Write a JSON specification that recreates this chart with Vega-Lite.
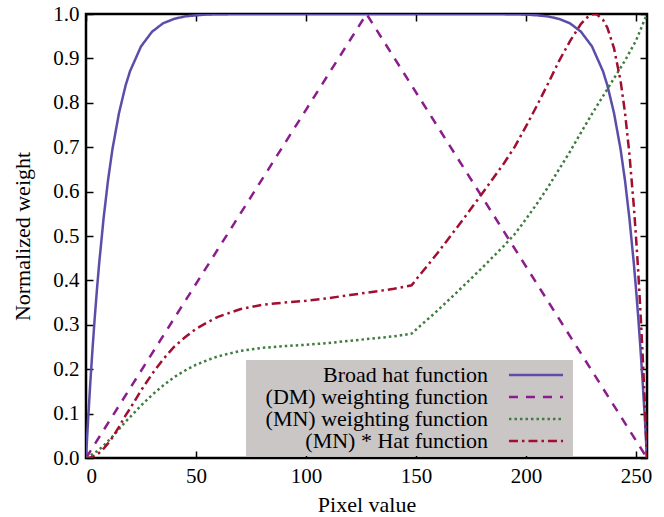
{
  "$schema": "https://vega.github.io/schema/vega-lite/v6.json",
  "width": 561,
  "height": 444,
  "autosize": "none",
  "padding": {"left": 86, "top": 14, "right": 17, "bottom": 59},
  "background": "white",
  "config": {
    "font": "Liberation Serif",
    "view": {"stroke": "black", "strokeWidth": 2.5}
  },
  "datasets": {
    "curves": [
      {"x": 0, "w": 0, "s": "Broad hat function"},
      {"x": 1, "w": 0.090, "s": "Broad hat function"},
      {"x": 2, "w": 0.173, "s": "Broad hat function"},
      {"x": 3, "w": 0.248, "s": "Broad hat function"},
      {"x": 4, "w": 0.318, "s": "Broad hat function"},
      {"x": 5, "w": 0.381, "s": "Broad hat function"},
      {"x": 6, "w": 0.439, "s": "Broad hat function"},
      {"x": 8, "w": 0.540, "s": "Broad hat function"},
      {"x": 10, "w": 0.625, "s": "Broad hat function"},
      {"x": 12, "w": 0.695, "s": "Broad hat function"},
      {"x": 15, "w": 0.777, "s": "Broad hat function"},
      {"x": 18, "w": 0.839, "s": "Broad hat function"},
      {"x": 20, "w": 0.871, "s": "Broad hat function"},
      {"x": 25, "w": 0.927, "s": "Broad hat function"},
      {"x": 30, "w": 0.960, "s": "Broad hat function"},
      {"x": 35, "w": 0.979, "s": "Broad hat function"},
      {"x": 40, "w": 0.989, "s": "Broad hat function"},
      {"x": 45, "w": 0.9946, "s": "Broad hat function"},
      {"x": 50, "w": 0.997, "s": "Broad hat function"},
      {"x": 55, "w": 0.9989, "s": "Broad hat function"},
      {"x": 60, "w": 0.9995, "s": "Broad hat function"},
      {"x": 70, "w": 1.0, "s": "Broad hat function"},
      {"x": 185, "w": 1.0, "s": "Broad hat function"},
      {"x": 195, "w": 0.9995, "s": "Broad hat function"},
      {"x": 200, "w": 0.9989, "s": "Broad hat function"},
      {"x": 205, "w": 0.997, "s": "Broad hat function"},
      {"x": 210, "w": 0.9946, "s": "Broad hat function"},
      {"x": 215, "w": 0.989, "s": "Broad hat function"},
      {"x": 220, "w": 0.979, "s": "Broad hat function"},
      {"x": 225, "w": 0.960, "s": "Broad hat function"},
      {"x": 230, "w": 0.927, "s": "Broad hat function"},
      {"x": 235, "w": 0.871, "s": "Broad hat function"},
      {"x": 237, "w": 0.839, "s": "Broad hat function"},
      {"x": 240, "w": 0.777, "s": "Broad hat function"},
      {"x": 243, "w": 0.695, "s": "Broad hat function"},
      {"x": 245, "w": 0.625, "s": "Broad hat function"},
      {"x": 247, "w": 0.540, "s": "Broad hat function"},
      {"x": 249, "w": 0.439, "s": "Broad hat function"},
      {"x": 250, "w": 0.381, "s": "Broad hat function"},
      {"x": 251, "w": 0.318, "s": "Broad hat function"},
      {"x": 252, "w": 0.248, "s": "Broad hat function"},
      {"x": 253, "w": 0.173, "s": "Broad hat function"},
      {"x": 254, "w": 0.090, "s": "Broad hat function"},
      {"x": 255, "w": 0, "s": "Broad hat function"},

      {"x": 0, "w": 0, "s": "(DM) weighting function"},
      {"x": 127.5, "w": 1, "s": "(DM) weighting function"},
      {"x": 255, "w": 0, "s": "(DM) weighting function"},

      {"x": 0, "w": 0, "s": "(MN) weighting function"},
      {"x": 1, "w": 0.003, "s": "(MN) weighting function"},
      {"x": 2, "w": 0.006, "s": "(MN) weighting function"},
      {"x": 3, "w": 0.009, "s": "(MN) weighting function"},
      {"x": 4, "w": 0.012, "s": "(MN) weighting function"},
      {"x": 5, "w": 0.015, "s": "(MN) weighting function"},
      {"x": 6, "w": 0.019, "s": "(MN) weighting function"},
      {"x": 8, "w": 0.028, "s": "(MN) weighting function"},
      {"x": 10, "w": 0.038, "s": "(MN) weighting function"},
      {"x": 12, "w": 0.048, "s": "(MN) weighting function"},
      {"x": 15, "w": 0.065, "s": "(MN) weighting function"},
      {"x": 18, "w": 0.082, "s": "(MN) weighting function"},
      {"x": 20, "w": 0.092, "s": "(MN) weighting function"},
      {"x": 25, "w": 0.118, "s": "(MN) weighting function"},
      {"x": 30, "w": 0.142, "s": "(MN) weighting function"},
      {"x": 35, "w": 0.163, "s": "(MN) weighting function"},
      {"x": 40, "w": 0.182, "s": "(MN) weighting function"},
      {"x": 45, "w": 0.197, "s": "(MN) weighting function"},
      {"x": 50, "w": 0.210, "s": "(MN) weighting function"},
      {"x": 55, "w": 0.220, "s": "(MN) weighting function"},
      {"x": 60, "w": 0.229, "s": "(MN) weighting function"},
      {"x": 70, "w": 0.241, "s": "(MN) weighting function"},
      {"x": 80, "w": 0.248, "s": "(MN) weighting function"},
      {"x": 90, "w": 0.252, "s": "(MN) weighting function"},
      {"x": 100, "w": 0.255, "s": "(MN) weighting function"},
      {"x": 110, "w": 0.259, "s": "(MN) weighting function"},
      {"x": 120, "w": 0.264, "s": "(MN) weighting function"},
      {"x": 130, "w": 0.269, "s": "(MN) weighting function"},
      {"x": 140, "w": 0.274, "s": "(MN) weighting function"},
      {"x": 148, "w": 0.280, "s": "(MN) weighting function"},
      {"x": 152, "w": 0.298, "s": "(MN) weighting function"},
      {"x": 155, "w": 0.311, "s": "(MN) weighting function"},
      {"x": 160, "w": 0.333, "s": "(MN) weighting function"},
      {"x": 170, "w": 0.380, "s": "(MN) weighting function"},
      {"x": 180, "w": 0.428, "s": "(MN) weighting function"},
      {"x": 190, "w": 0.478, "s": "(MN) weighting function"},
      {"x": 195, "w": 0.505, "s": "(MN) weighting function"},
      {"x": 200, "w": 0.538, "s": "(MN) weighting function"},
      {"x": 205, "w": 0.573, "s": "(MN) weighting function"},
      {"x": 210, "w": 0.610, "s": "(MN) weighting function"},
      {"x": 215, "w": 0.650, "s": "(MN) weighting function"},
      {"x": 220, "w": 0.690, "s": "(MN) weighting function"},
      {"x": 225, "w": 0.733, "s": "(MN) weighting function"},
      {"x": 230, "w": 0.775, "s": "(MN) weighting function"},
      {"x": 235, "w": 0.815, "s": "(MN) weighting function"},
      {"x": 240, "w": 0.855, "s": "(MN) weighting function"},
      {"x": 245, "w": 0.895, "s": "(MN) weighting function"},
      {"x": 250, "w": 0.940, "s": "(MN) weighting function"},
      {"x": 255, "w": 1.0, "s": "(MN) weighting function"},

      {"x": 0, "w": 0, "s": "(MN) * Hat function"},
      {"x": 1, "w": 0.0004, "s": "(MN) * Hat function"},
      {"x": 2, "w": 0.0014, "s": "(MN) * Hat function"},
      {"x": 3, "w": 0.0031, "s": "(MN) * Hat function"},
      {"x": 4, "w": 0.0053, "s": "(MN) * Hat function"},
      {"x": 5, "w": 0.0079, "s": "(MN) * Hat function"},
      {"x": 6, "w": 0.0116, "s": "(MN) * Hat function"},
      {"x": 8, "w": 0.021, "s": "(MN) * Hat function"},
      {"x": 10, "w": 0.033, "s": "(MN) * Hat function"},
      {"x": 12, "w": 0.046, "s": "(MN) * Hat function"},
      {"x": 15, "w": 0.070, "s": "(MN) * Hat function"},
      {"x": 18, "w": 0.096, "s": "(MN) * Hat function"},
      {"x": 20, "w": 0.111, "s": "(MN) * Hat function"},
      {"x": 25, "w": 0.152, "s": "(MN) * Hat function"},
      {"x": 30, "w": 0.189, "s": "(MN) * Hat function"},
      {"x": 35, "w": 0.222, "s": "(MN) * Hat function"},
      {"x": 40, "w": 0.250, "s": "(MN) * Hat function"},
      {"x": 45, "w": 0.272, "s": "(MN) * Hat function"},
      {"x": 50, "w": 0.291, "s": "(MN) * Hat function"},
      {"x": 55, "w": 0.305, "s": "(MN) * Hat function"},
      {"x": 60, "w": 0.318, "s": "(MN) * Hat function"},
      {"x": 70, "w": 0.335, "s": "(MN) * Hat function"},
      {"x": 80, "w": 0.345, "s": "(MN) * Hat function"},
      {"x": 90, "w": 0.350, "s": "(MN) * Hat function"},
      {"x": 100, "w": 0.354, "s": "(MN) * Hat function"},
      {"x": 110, "w": 0.360, "s": "(MN) * Hat function"},
      {"x": 120, "w": 0.367, "s": "(MN) * Hat function"},
      {"x": 130, "w": 0.374, "s": "(MN) * Hat function"},
      {"x": 140, "w": 0.381, "s": "(MN) * Hat function"},
      {"x": 148, "w": 0.389, "s": "(MN) * Hat function"},
      {"x": 152, "w": 0.414, "s": "(MN) * Hat function"},
      {"x": 155, "w": 0.432, "s": "(MN) * Hat function"},
      {"x": 160, "w": 0.463, "s": "(MN) * Hat function"},
      {"x": 170, "w": 0.528, "s": "(MN) * Hat function"},
      {"x": 180, "w": 0.595, "s": "(MN) * Hat function"},
      {"x": 190, "w": 0.664, "s": "(MN) * Hat function"},
      {"x": 195, "w": 0.702, "s": "(MN) * Hat function"},
      {"x": 200, "w": 0.747, "s": "(MN) * Hat function"},
      {"x": 205, "w": 0.794, "s": "(MN) * Hat function"},
      {"x": 210, "w": 0.843, "s": "(MN) * Hat function"},
      {"x": 215, "w": 0.894, "s": "(MN) * Hat function"},
      {"x": 220, "w": 0.939, "s": "(MN) * Hat function"},
      {"x": 225, "w": 0.978, "s": "(MN) * Hat function"},
      {"x": 228, "w": 0.993, "s": "(MN) * Hat function"},
      {"x": 230, "w": 0.999, "s": "(MN) * Hat function"},
      {"x": 232, "w": 1.0, "s": "(MN) * Hat function"},
      {"x": 235, "w": 0.987, "s": "(MN) * Hat function"},
      {"x": 237, "w": 0.969, "s": "(MN) * Hat function"},
      {"x": 240, "w": 0.923, "s": "(MN) * Hat function"},
      {"x": 243, "w": 0.849, "s": "(MN) * Hat function"},
      {"x": 245, "w": 0.778, "s": "(MN) * Hat function"},
      {"x": 247, "w": 0.685, "s": "(MN) * Hat function"},
      {"x": 249, "w": 0.568, "s": "(MN) * Hat function"},
      {"x": 250, "w": 0.498, "s": "(MN) * Hat function"},
      {"x": 251, "w": 0.421, "s": "(MN) * Hat function"},
      {"x": 252, "w": 0.332, "s": "(MN) * Hat function"},
      {"x": 253, "w": 0.235, "s": "(MN) * Hat function"},
      {"x": 254, "w": 0.124, "s": "(MN) * Hat function"},
      {"x": 255, "w": 0, "s": "(MN) * Hat function"}
    ]
  },
  "data": {"name": "curves"},
  "resolve": {"axis": {"x": "independent", "y": "independent"}},
  "layer": [
    {
      "mark": {"type": "line", "strokeWidth": 2.5, "clip": true},
      "encoding": {
        "x": {
          "field": "x", "type": "quantitative",
          "scale": {"domain": [0, 255], "nice": false, "zero": false},
          "axis": {
            "orient": "bottom", "values": [0, 50, 100, 150, 200, 250], "title": "Pixel value",
            "grid": false, "domain": false, "tickSize": -7, "tickColor": "black", "tickWidth": 1.5,
            "labelFont": "Liberation Serif", "labelFontSize": 21, "labelColor": "black", "labelPadding": 14,
            "titleFont": "Liberation Serif", "titleFontSize": 22, "titleFontWeight": "normal", "titleColor": "black", "titlePadding": 8
          }
        },
        "y": {
          "field": "w", "type": "quantitative",
          "scale": {"domain": [0, 1], "nice": false},
          "axis": {
            "orient": "left", "values": [0, 0.1, 0.2, 0.3, 0.4, 0.5, 0.6, 0.7, 0.8, 0.9, 1.0], "format": ".1f", "title": "Normalized weight",
            "grid": false, "domain": false, "tickSize": -7, "tickColor": "black", "tickWidth": 1.5,
            "labelFont": "Liberation Serif", "labelFontSize": 21, "labelColor": "black", "labelPadding": 14,
            "titleFont": "Liberation Serif", "titleFontSize": 22, "titleFontWeight": "normal", "titleColor": "black", "titlePadding": 18
          }
        },
        "color": {
          "field": "s", "type": "nominal",
          "scale": {
            "domain": ["Broad hat function", "(DM) weighting function", "(MN) weighting function", "(MN) * Hat function"],
            "range": ["#5a4ea8", "#8b1c8e", "#3f7d3f", "#a00f30"]
          },
          "legend": {
            "title": null, "orient": "none", "legendX": 160, "legendY": 346,
            "fillColor": "#cbc6c6", "padding": 4,
            "symbolType": "M-5,0L5,0", "symbolSize": 117, "symbolStrokeWidth": 2.5,
            "symbolOffset": 275, "labelAlign": "right", "labelOffset": -59,
            "labelFontSize": 22, "labelFont": "Liberation Serif", "labelColor": "black", "labelLimit": 400,
            "rowPadding": 0
          }
        },
        "strokeDash": {
          "field": "s", "type": "nominal",
          "scale": {
            "domain": ["Broad hat function", "(DM) weighting function", "(MN) weighting function", "(MN) * Hat function"],
            "range": [[1, 0], [9, 8], [2.5, 3], [9, 4, 2.5, 4]]
          },
          "legend": {
            "title": null, "orient": "none", "legendX": 160, "legendY": 346,
            "fillColor": "#cbc6c6", "padding": 4,
            "symbolType": "M-5,0L5,0", "symbolSize": 117, "symbolStrokeWidth": 2.5,
            "symbolOffset": 275, "labelAlign": "right", "labelOffset": -59,
            "labelFontSize": 22, "labelFont": "Liberation Serif", "labelColor": "black", "labelLimit": 400,
            "rowPadding": 0
          }
        }
      }
    },
    {
      "mark": {"type": "point", "opacity": 0},
      "encoding": {
        "x": {"field": "x", "type": "quantitative", "axis": {"orient": "top", "values": [0, 50, 100, 150, 200, 250], "labels": false, "title": null, "grid": false, "domain": false, "tickSize": -7, "tickColor": "black", "tickWidth": 1.5}},
        "y": {"field": "w", "type": "quantitative", "axis": {"orient": "right", "values": [0, 0.1, 0.2, 0.3, 0.4, 0.5, 0.6, 0.7, 0.8, 0.9, 1.0], "labels": false, "title": null, "grid": false, "domain": false, "tickSize": -7, "tickColor": "black", "tickWidth": 1.5}}
      }
    }
  ]
}
